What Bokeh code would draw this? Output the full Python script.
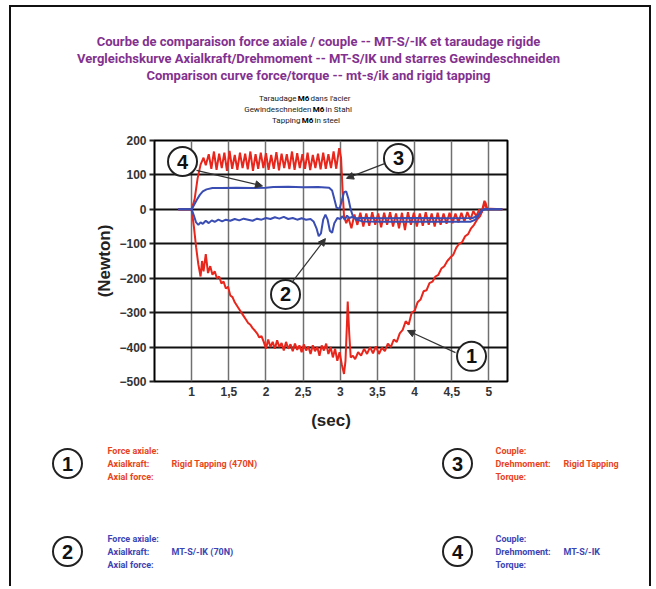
from bokeh.plotting import figure
from bokeh.models import Range1d, FixedTicker, Arrow, NormalHead, CustomJSTickFormatter
from bokeh.layouts import column
from bokeh.embed import file_html
from bokeh.resources import INLINE
from bokeh.core.properties import value

# ---------------- data ----------------
x_ticks = [1, 1.5, 2, 2.5, 3, 3.5, 4, 4.5, 5]
x_tick_labels = ["1", "1,5", "2", "2,5", "3", "3,5", "4", "4,5", "5"]
y_ticks = [-500, -400, -300, -200, -100, 0, 100, 200]

# (1) axial force, rigid tapping (red)
axial_rigid = [(0.82,0),(1.00,0),(1.03,-50),(1.06,-110),(1.09,-160),(1.12,-195),(1.14,-150),(1.16,-180),(1.19,-130),
    (1.22,-185),(1.25,-165),(1.28,-190),(1.31,-180),(1.34,-200),(1.37,-195),(1.40,-215),(1.43,-210),(1.46,-230),
    (1.49,-225),(1.52,-250),(1.55,-255),(1.58,-270),(1.61,-280),(1.64,-290),(1.67,-300),(1.70,-310),(1.73,-320),
    (1.76,-330),(1.79,-335),(1.82,-345),(1.85,-352),(1.88,-360),(1.91,-372),(1.94,-368),(1.97,-385),(2.00,-405),
    (2.03,-378),(2.06,-400),(2.09,-385),(2.12,-405),(2.15,-380),(2.18,-400),(2.21,-388),(2.24,-410),(2.27,-385),
    (2.30,-405),(2.33,-392),(2.36,-412),(2.39,-390),(2.42,-408),(2.45,-395),(2.48,-415),(2.51,-392),(2.54,-410),
    (2.57,-398),(2.60,-420),(2.63,-395),(2.66,-412),(2.69,-400),(2.72,-425),(2.75,-395),(2.78,-410),(2.81,-390),
    (2.84,-420),(2.87,-400),(2.90,-430),(2.93,-405),(2.96,-440),(2.99,-415),(3.02,-450),(3.05,-478),(3.07,-440),
    (3.09,-330),(3.10,-268),(3.12,-360),(3.14,-430),(3.17,-425),(3.20,-435),(3.24,-415),(3.28,-425),(3.32,-405),
    (3.36,-420),(3.40,-400),(3.44,-418),(3.48,-398),(3.52,-420),(3.56,-402),(3.60,-412),(3.64,-390),(3.68,-400),
    (3.72,-378),(3.76,-385),(3.80,-360),(3.84,-350),(3.88,-325),(3.92,-335),(3.96,-300),(4.00,-295),(4.04,-270),
    (4.08,-262),(4.12,-238),(4.16,-235),(4.20,-214),(4.24,-210),(4.28,-195),(4.32,-190),(4.36,-172),(4.40,-165),
    (4.44,-150),(4.48,-140),(4.52,-132),(4.56,-112),(4.60,-100),(4.64,-95),(4.68,-78),(4.72,-72),(4.76,-55),
    (4.80,-45),(4.84,-30),(4.88,-20),(4.91,-5),(4.95,22),(4.98,0),(5.18,0)]

# (3) torque, rigid tapping (red)
torque_rigid = [(0.82,0),(1.00,0),(1.04,30),(1.08,90),(1.12,130),(1.16,150),(1.19,128),
    (1.23,160),(1.265,118),(1.30,168),(1.335,115),(1.37,162),(1.405,120),(1.44,165),(1.475,112),(1.51,170),
    (1.545,118),(1.58,158),(1.615,115),(1.65,165),(1.685,120),(1.72,162),(1.755,116),(1.79,168),(1.825,112),
    (1.86,160),(1.895,118),(1.93,165),(1.965,120),(2.00,163),(2.035,115),(2.07,158),(2.105,118),(2.14,166),
    (2.175,113),(2.21,162),(2.245,120),(2.28,160),(2.315,117),(2.35,168),(2.385,115),(2.42,163),(2.455,120),
    (2.49,160),(2.525,118),(2.56,165),(2.595,114),(2.63,158),(2.665,120),(2.70,162),(2.735,116),(2.77,165),
    (2.805,118),(2.84,160),(2.875,120),(2.91,168),(2.945,118),(2.985,178),(3.01,150),(3.03,60),(3.05,-20),
    (3.08,-40),(3.11,-25),(3.15,-55),(3.19,-15),(3.23,-45),(3.27,-10),(3.31,-50),(3.35,-12),(3.39,-48),
    (3.43,-8),(3.47,-45),(3.51,-12),(3.55,-52),(3.59,-10),(3.63,-45),(3.67,-8),(3.71,-50),(3.75,-12),(3.79,-55),
    (3.83,-10),(3.87,-60),(3.91,-8),(3.95,-45),(3.99,-10),(4.03,-50),(4.07,-12),(4.11,-48),(4.15,-8),(4.19,-45),
    (4.23,-12),(4.27,-50),(4.31,-10),(4.35,-45),(4.39,-12),(4.43,-42),(4.47,-10),(4.51,-40),(4.55,-12),
    (4.59,-38),(4.63,-10),(4.67,-35),(4.71,-8),(4.75,-30),(4.79,-5),(4.83,-20),(4.87,0),(4.90,-10),(4.94,25),
    (4.97,0),(5.02,2),(5.18,0)]

# (4) torque, MT-S/-IK (blue)
torque_mts = [(0.82,0),(1.00,0),(1.03,12),(1.07,28),(1.11,42),(1.15,52),(1.20,58),(1.28,62),(1.40,62),(1.60,63),
    (1.80,62),(2.00,63),(2.10,65),(2.30,66),(2.50,64),(2.70,65),(2.85,63),(2.89,55),(2.92,30),(2.95,5),(2.99,2),
    (3.02,25),(3.05,50),(3.08,52),(3.11,30),(3.14,0),(3.17,-20),(3.22,-30),(3.30,-35),(3.60,-36),(4.00,-36),
    (4.40,-36),(4.75,-36),(4.82,-30),(4.86,-18),(4.90,-3),(4.93,0),(5.18,0)]

# (2) axial force, MT-S/-IK (blue)
axial_mts = [(0.82,0),(1.00,0),(1.03,-18),(1.06,-38),(1.09,-45),(1.12,-38),(1.15,-42),(1.19,-33),(1.23,-40),
    (1.27,-32),(1.31,-36),(1.36,-30),(1.41,-35),(1.46,-30),(1.52,-33),(1.58,-28),(1.64,-32),(1.70,-27),(1.76,-30),
    (1.82,-33),(1.88,-27),(1.94,-30),(2.00,-25),(2.06,-28),(2.12,-23),(2.18,-27),(2.24,-22),(2.30,-28),(2.36,-25),
    (2.42,-30),(2.48,-26),(2.54,-30),(2.60,-28),(2.64,-35),(2.68,-55),(2.71,-78),(2.74,-70),(2.77,-30),(2.80,-15),
    (2.83,-30),(2.86,-62),(2.89,-68),(2.92,-40),(2.96,-25),(3.00,-28),(3.03,-20),(3.06,-30),(3.09,-18),(3.12,-25),
    (3.16,-22),(3.20,-26),(3.30,-25),(3.60,-26),(4.00,-25),(4.40,-26),(4.78,-25),(4.84,-20),(4.88,-10),(4.92,-2),
    (4.95,0),(5.18,0)]

title_lines = ["Courbe de comparaison force axiale / couple -- MT-S/-IK et taraudage rigide",
               "Vergleichskurve Axialkraft/Drehmoment -- MT-S/IK und starres Gewindeschneiden",
               "Comparison curve force/torque -- mt-s/ik and rigid tapping"]
sub_left = ["Taraudage", "Gewindeschneiden", "Tapping"]
sub_mid = ["M6", "M6", "M6"]
sub_right = ["dans l'acier", "in Stahl", "in steel"]

marker_ids = ["1", "2", "3", "4"]
marker_x = [4.766, 2.263, 3.783, 0.877]
marker_y = [-427, -247, 148, 139]
leader_x0 = [4.55, 2.357, 3.595, 1.065]
leader_y0 = [-416, -210, 133, 113]
leader_x1 = [3.904, 2.80, 3.083, 1.953]
leader_y1 = [-352, -85, 90, 68]

legend_rows_force = ["Force axiale:", "Axialkraft:", "Axial force:"]
legend_rows_torque = ["Couple:", "Drehmoment:", "Torque:"]
legend_values = ["Rigid Tapping (470N)", "Rigid Tapping", "MT-S/-IK (70N)", "MT-S/-IK"]

RED = "#e8261c"
BLUE = "#3a4db3"
RED_TXT = "#e8441c"
BLUE_TXT = "#3b45b5"
PURPLE = "#83318f"
COND = "Roboto"

# ---------------- geometry ----------------
W = 638
H_HEAD = 118
H_TOP = 315
H_LEG = 146
FL, FT, FW, FH = 143, 15, 353, 241
XR = (0.5, 5.25)
YR = (-500, 200)

SIDE = "2px solid #111"


def panel(height):
    f = figure(width=W, height=height, x_range=Range1d(0, W), y_range=Range1d(height, 0),
               output_backend="svg", toolbar_location=None, x_axis_type=None, y_axis_type=None,
               min_border=0, min_border_left=0, min_border_right=0,
               min_border_top=0, min_border_bottom=0)
    f.outline_line_color = None
    f.grid.visible = False
    f.background_fill_color = "white"
    f.border_fill_color = "white"
    return f

# ---------------- header panel ----------------
h = panel(H_HEAD)
h.text(x=[307, 307, 307], y=[34, 51, 68], text=title_lines, text_font=value(COND),
       text_font_style="bold", text_font_size="13px", text_color=PURPLE,
       text_align="center", text_baseline="middle")
sub_mid_x = [292, 307, 296]
sub_y = [91, 102, 113]
h.text(x=[m - 7 for m in sub_mid_x], y=sub_y, text=sub_left, text_font=value(COND),
       text_font_size="8px", text_color="#222222", text_align="right", text_baseline="middle")
h.text(x=sub_mid_x, y=sub_y, text=sub_mid, text_font=value(COND), text_font_style="bold",
       text_font_size="8px", text_color="#000000", text_align="center", text_baseline="middle")
h.text(x=[m + 7 for m in sub_mid_x], y=sub_y, text=sub_right, text_font=value(COND),
       text_font_size="8px", text_color="#222222", text_align="left", text_baseline="middle")

# ---------------- chart ----------------
p = figure(width=W, height=H_TOP, x_range=Range1d(*XR), y_range=Range1d(*YR),
           output_backend="svg", toolbar_location=None,
           min_border_left=FL, min_border_top=FT,
           min_border_right=W - FL - FW, min_border_bottom=H_TOP - FT - FH)
p.background_fill_color = "white"
p.border_fill_color = "white"
p.outline_line_color = "black"
p.outline_line_width = 2
p.outline_line_alpha = 1

p.xaxis.ticker = FixedTicker(ticks=x_ticks)
p.xaxis.formatter = CustomJSTickFormatter(args=dict(xt=x_ticks, xl=x_tick_labels),
    code="const i = xt.indexOf(tick); return i >= 0 ? xl[i] : '';")
p.yaxis.ticker = FixedTicker(ticks=y_ticks)

for ax in (p.xaxis[0], p.yaxis[0]):
    ax.axis_line_color = None
    ax.minor_tick_line_color = None
    ax.minor_tick_out = 0
    ax.major_label_text_font = "Liberation Sans"
    ax.major_label_text_font_style = "bold"
    ax.major_label_text_font_size = "12px"
    ax.major_label_text_color = "#333333"
    ax.axis_label_text_font = "Liberation Sans"
    ax.axis_label_text_font_style = "bold"
    ax.axis_label_text_font_size = "17px"
    ax.axis_label_text_color = "#222222"
p.xaxis.major_tick_line_color = None
p.xaxis.major_tick_out = 0
p.xaxis.major_tick_in = 0
p.xaxis.major_label_standoff = 5
p.xaxis.axis_label = "(sec)"
p.xaxis.axis_label_standoff = 12
p.yaxis.major_tick_line_color = "#222222"
p.yaxis.major_tick_line_width = 2
p.yaxis.major_tick_out = 5
p.yaxis.major_tick_in = 0
p.yaxis.major_label_standoff = 3
p.yaxis.axis_label = "(Newton)"
p.yaxis.axis_label_standoff = 2

p.ygrid.grid_line_color = "#111111"
p.ygrid.grid_line_width = 2
p.xgrid.grid_line_color = "#707070"
p.xgrid.grid_line_width = 1.5


def split(series):
    return [a for a, _ in series], [b for _, b in series]

for s in (axial_rigid, torque_rigid):
    t, v = split(s)
    p.line(t, v, line_color=RED, line_width=2)
for s in (torque_mts, axial_mts):
    t, v = split(s)
    p.line(t, v, line_color=BLUE, line_width=2)

for x0, y0, x1, y1 in zip(leader_x0, leader_y0, leader_x1, leader_y1):
    p.add_layout(Arrow(end=NormalHead(size=7, fill_color="#333333", line_color="#333333", line_width=1),
                       x_start=x0, y_start=y0, x_end=x1, y_end=y1,
                       line_color="#333333", line_width=1.2))

p.scatter(x=marker_x, y=marker_y, marker="circle", size=29, fill_color="white",
          line_color="#222222", line_width=2)
p.text(x=marker_x, y=marker_y, text=marker_ids, text_font=value("Liberation Sans"),
       text_font_style="bold", text_font_size="20px", text_align="center",
       text_baseline="middle", text_color="#111111")

# ---------------- legend panel ----------------
q = panel(H_LEG)
leg_cx = [56, 56, 446, 446]
leg_cy = [23, 111, 23, 111]
leg_ids = ["1", "2", "3", "4"]
q.scatter(x=leg_cx, y=leg_cy, marker="circle", size=29, fill_color="white",
          line_color="#222222", line_width=2)
q.text(x=leg_cx, y=leg_cy, text=leg_ids, text_font=value("Liberation Sans"),
       text_font_style="bold", text_font_size="20px", text_align="center",
       text_baseline="middle", text_color="#111111")

blocks = [(96, 23, legend_rows_force, legend_values[0], RED_TXT, 160),
          (484, 23, legend_rows_torque, legend_values[1], RED_TXT, 552),
          (96, 111, legend_rows_force, legend_values[2], BLUE_TXT, 160),
          (484, 111, legend_rows_torque, legend_values[3], BLUE_TXT, 552)]
for bx, by, rows, val, col, vx in blocks:
    q.text(x=[bx] * 3, y=[by - 13, by, by + 13], text=rows, text_font=value(COND),
           text_font_style="bold", text_font_size="9px", text_color=col,
           text_align="left", text_baseline="middle")
    q.text(x=[vx], y=[by], text=[val], text_font=value(COND),
           text_font_style="bold", text_font_size="9px", text_color=col,
           text_align="left", text_baseline="middle")

top_box = column(h, styles={"margin-left": "9px", "margin-top": "5px", "border-top": SIDE,
                            "border-left": SIDE, "border-right": SIDE})
mid_box = column(p, styles={"margin-left": "9px", "border-left": SIDE, "border-right": SIDE})
bot_box = column(q, styles={"margin-left": "9px", "border-left": SIDE, "border-right": SIDE})

open("out.html", "w").write(file_html([top_box, mid_box, bot_box], INLINE))
